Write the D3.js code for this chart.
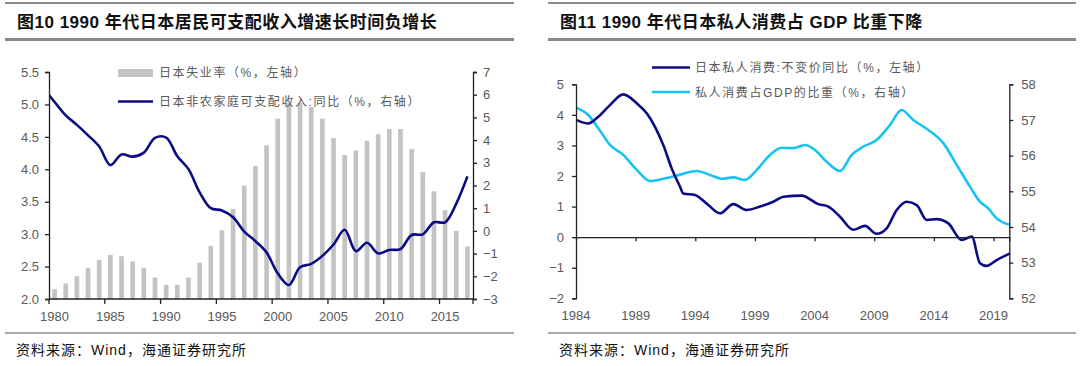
<!DOCTYPE html>
<html><head><meta charset="utf-8">
<script src="https://cdn.jsdelivr.net/npm/d3@7"></script>
<style>
body{margin:0;background:#fff;}
svg{display:block;}
text{font-family:"Liberation Sans","Noto Sans CJK SC",sans-serif;}
</style></head>
<body>
<svg id="c" width="1080" height="366"></svg>
<script>
// ---------- DATA ----------
// Chart 1 (figure 10)
const years1 = d3.range(1980, 2018);
const unemployment = [2.15,2.24,2.35,2.48,2.60,2.68,2.66,2.58,2.48,2.33,2.22,2.22,2.33,2.56,2.82,3.06,3.39,3.75,4.05,4.37,4.78,5.02,5.02,4.96,4.78,4.48,4.22,4.29,4.44,4.54,4.62,4.62,4.31,3.96,3.66,3.37,3.05,2.81];
const incomeYears = d3.range(1979, 2018);
const incomeYoY = [6.3,5.68,5.09,4.67,4.21,3.72,2.90,3.37,3.27,3.45,4.10,4.11,3.29,2.72,1.70,1.00,0.90,0.60,-0.03,-0.45,-0.95,-1.87,-2.38,-1.60,-1.45,-1.10,-0.60,0.05,-0.89,-0.52,-0.99,-0.84,-0.80,-0.18,-0.15,0.38,0.38,1.20,2.40];
const leftTicks1 = [2.0,2.5,3.0,3.5,4.0,4.5,5.0,5.5];
const rightTicks1 = [-3,-2,-1,0,1,2,3,4,5,6,7];
const xLabels1 = [1980,1985,1990,1995,2000,2005,2010,2015];
const title1 = "图10 1990 年代日本居民可支配收入增速长时间负增长";
const legend1 = ["日本失业率（%，左轴）","日本非农家庭可支配收入:同比（%，右轴）"];

// Chart 2 (figure 11)
const consTime = [1984.06,1985.03,1985.87,1986.85,1987.96,1989.09,1989.93,1990.62,1991.32,1992.02,1992.72,1992.99,1993.97,1995.09,1996.07,1997.19,1998.31,1999.42,2000.54,2001.38,2002.92,2004.31,2005.15,2006.13,2007.24,2008.22,2009.2,2010.04,2010.88,2011.72,2012.56,2013.4,2014.23,2015.21,2016.33,2017.17,2017.86,2018.42,2019.26,2020.38];
const consYoY = [3.83,3.72,3.94,4.32,4.67,4.38,4.05,3.61,3.01,2.25,1.65,1.43,1.38,1.05,0.78,1.08,0.89,1.0,1.16,1.32,1.36,1.08,1.0,0.67,0.24,0.37,0.11,0.29,0.89,1.16,1.05,0.56,0.59,0.45,-0.09,0.02,-0.85,-0.94,-0.75,-0.53];
const shareTime = [1984.06,1985.03,1985.87,1986.85,1987.96,1989.09,1990.2,1991.32,1992.44,1994.12,1995.23,1996.21,1997.19,1998.17,1999.15,2000.26,2001.24,2002.21,2003.2,2004.03,2005.01,2006.13,2007.11,2008.08,2009.2,2010.32,2011.3,2012.27,2013.53,2014.79,2015.91,2017.03,2017.86,2018.56,2019.26,2020.38];
const shareGDP = [57.34,57.14,56.77,56.30,56.02,55.60,55.29,55.35,55.44,55.57,55.46,55.35,55.39,55.32,55.60,56.02,56.22,56.21,56.30,56.16,55.83,55.57,56.02,56.25,56.44,56.86,57.28,57.0,56.72,56.35,55.74,55.13,54.71,54.52,54.24,54.06];
const leftTicks2 = [-2,-1,0,1,2,3,4,5];
const rightTicks2 = [52,53,54,55,56,57,58];
const xLabels2 = [1984,1989,1994,1999,2004,2009,2014,2019];
const title2 = "图11 1990 年代日本私人消费占 GDP 比重下降";
const legend2 = ["日本私人消费:不变价同比（%，左轴）","私人消费占GDP的比重（%，右轴）"];
const source = "资料来源：Wind，海通证券研究所";

// ---------- STYLE ----------
const NAVY = "#0b0b86", CYAN = "#16c4f3", BAR = "#c3c3c3", LBL = "#595959", AX = "#222";
const svg = d3.select("#c");

function frame(x0, x1, title){
  svg.append("line").attr("x1",x0).attr("x2",x1).attr("y1",3).attr("y2",3).attr("stroke","#666").attr("stroke-width",1.5);
  svg.append("line").attr("x1",x0).attr("x2",x1).attr("y1",39.5).attr("y2",39.5).attr("stroke","#888").attr("stroke-width",3);
  svg.append("line").attr("x1",x0).attr("x2",x1).attr("y1",333).attr("y2",333).attr("stroke","#555").attr("stroke-width",1.2);
  svg.append("text").attr("x",x0+12).attr("y",28).attr("font-size",17).attr("letter-spacing",0.5).attr("font-weight","bold").attr("fill","#111").text(title);
  svg.append("text").attr("x",x0+11).attr("y",355).attr("font-size",14).attr("letter-spacing",1).attr("fill","#111").text(source);
}
frame(5, 514, title1);
frame(548, 1076, title2);

function styleAxis(g){
  g.selectAll("path").attr("stroke",AX).attr("stroke-width",1.3);
  g.selectAll("line").attr("stroke",AX).attr("stroke-width",1.3);
  g.selectAll("text").attr("fill",LBL).attr("font-size",13).attr("font-family","Liberation Sans, Arial, sans-serif");
}

// ---------- CHART 1 ----------
{
  const L=49, R=473, T=72, B=299;
  const xb = d3.scaleBand().domain(years1).range([L,R]).paddingInner(0.58).paddingOuter(0.29);
  const xc = y => xb(y) + xb.bandwidth()/2;
  const xLine = d3.scaleLinear().domain([1980,2017]).range([xc(1980), xc(2017)]);
  const yl = d3.scaleLinear().domain([2,5.5]).range([B,T]);
  const yr = d3.scaleLinear().domain([-3,7]).range([B,T]);
  svg.append("g").selectAll("rect").data(years1).join("rect")
    .attr("x",d=>xb(d)).attr("width",xb.bandwidth())
    .attr("y",(d,i)=>yl(unemployment[i])).attr("height",(d,i)=>B-yl(unemployment[i]))
    .attr("fill",BAR);
  svg.append("defs").append("clipPath").attr("id","clip1").append("rect").attr("x",L).attr("y",T-10).attr("width",R-L).attr("height",B-T+20);
  const line = d3.line().x((d,i)=>xLine(incomeYears[i])).y(d=>yr(d)).curve(d3.curveCatmullRom.alpha(0.5));
  svg.append("path").datum(incomeYoY).attr("d",line).attr("fill","none").attr("stroke",NAVY).attr("stroke-width",2.6).attr("clip-path","url(#clip1)");

  const gl = svg.append("g").attr("transform",`translate(${L},0)`).call(d3.axisLeft(yl).tickValues(leftTicks1).tickFormat(d3.format(".1f")).tickSize(4).tickPadding(6));
  styleAxis(gl);
  const gr = svg.append("g").attr("transform",`translate(${R},0)`).call(d3.axisRight(yr).tickValues(rightTicks1).tickFormat(d3.format("d")).tickSize(4).tickPadding(6));
  styleAxis(gr);
  const gx = svg.append("g");
  gx.append("line").attr("x1",L).attr("x2",R).attr("y1",B).attr("y2",B).attr("stroke",AX).attr("stroke-width",1.3);
  const step = xb.step();
  gx.selectAll("line.t").data(xLabels1).join("line").attr("class","t")
    .attr("x1",d=>xc(d)-step/2).attr("x2",d=>xc(d)-step/2).attr("y1",B).attr("y2",B+5).attr("stroke",AX).attr("stroke-width",1.3);
  gx.append("line").attr("x1",R).attr("x2",R).attr("y1",B).attr("y2",B+5).attr("stroke",AX).attr("stroke-width",1.3);
  gx.selectAll("text").data(xLabels1).join("text").attr("x",d=>xc(d)).attr("y",B+22).attr("text-anchor","middle")
    .attr("fill",LBL).attr("font-size",13).text(d=>d);

  const lg = svg.append("g");
  lg.append("rect").attr("x",118).attr("y",69).attr("width",35).attr("height",8).attr("fill",BAR);
  lg.append("line").attr("x1",118).attr("x2",153).attr("y1",101.5).attr("y2",101.5).attr("stroke",NAVY).attr("stroke-width",2.6);
  lg.selectAll("text").data(legend1).join("text").attr("x",159).attr("y",(d,i)=>77+i*29)
    .attr("font-size",12).attr("fill",LBL).attr("letter-spacing",1.6).text(d=>d);
}

// ---------- CHART 2 ----------
{
  const L=576, R=1009.3, T=84.3, B=298.3;
  const x = d3.scaleLinear().domain([1984,2020.32]).range([L,R]);
  const yl = d3.scaleLinear().domain([-2,5]).range([B,T]);
  const yr = d3.scaleLinear().domain([52,58]).range([B,T]);
  const l1 = d3.line().x((d,i)=>x(consTime[i])).y(d=>yl(d)).curve(d3.curveMonotoneX);
  const l2 = d3.line().x((d,i)=>x(shareTime[i])).y(d=>yr(d)).curve(d3.curveMonotoneX);
  svg.append("path").datum(shareGDP).attr("d",l2).attr("fill","none").attr("stroke",CYAN).attr("stroke-width",2.6);
  svg.append("path").datum(consYoY).attr("d",l1).attr("fill","none").attr("stroke",NAVY).attr("stroke-width",2.6);

  const gl = svg.append("g").attr("transform",`translate(${L},0)`).call(d3.axisLeft(yl).tickValues(leftTicks2).tickFormat(d3.format("d")).tickSize(4).tickPadding(8));
  styleAxis(gl);
  const gr = svg.append("g").attr("transform",`translate(${R},0)`).call(d3.axisRight(yr).tickValues(rightTicks2).tickFormat(d3.format("d")).tickSize(4).tickPadding(8));
  styleAxis(gr);
  const gx = svg.append("g").attr("transform",`translate(0,${yl(0)})`).call(d3.axisBottom(x).tickValues(xLabels2.concat([2020.32])).tickFormat("").tickSize(4).tickSizeOuter(0));
  styleAxis(gx);
  svg.append("g").selectAll("text").data(xLabels2).join("text").attr("x",d=>x(d)).attr("y",B+22).attr("text-anchor","middle")
    .attr("fill",LBL).attr("font-size",13).text(d=>d);

  const lg = svg.append("g");
  lg.append("line").attr("x1",652).attr("x2",690).attr("y1",67.5).attr("y2",67.5).attr("stroke",NAVY).attr("stroke-width",2.6);
  lg.append("line").attr("x1",652).attr("x2",690).attr("y1",92).attr("y2",92).attr("stroke",CYAN).attr("stroke-width",2.6);
  lg.selectAll("text").data(legend2).join("text").attr("x",695).attr("y",(d,i)=>72+i*25)
    .attr("font-size",12).attr("fill",LBL).attr("letter-spacing",1.6).text(d=>d);
}
</script>
</body></html>
